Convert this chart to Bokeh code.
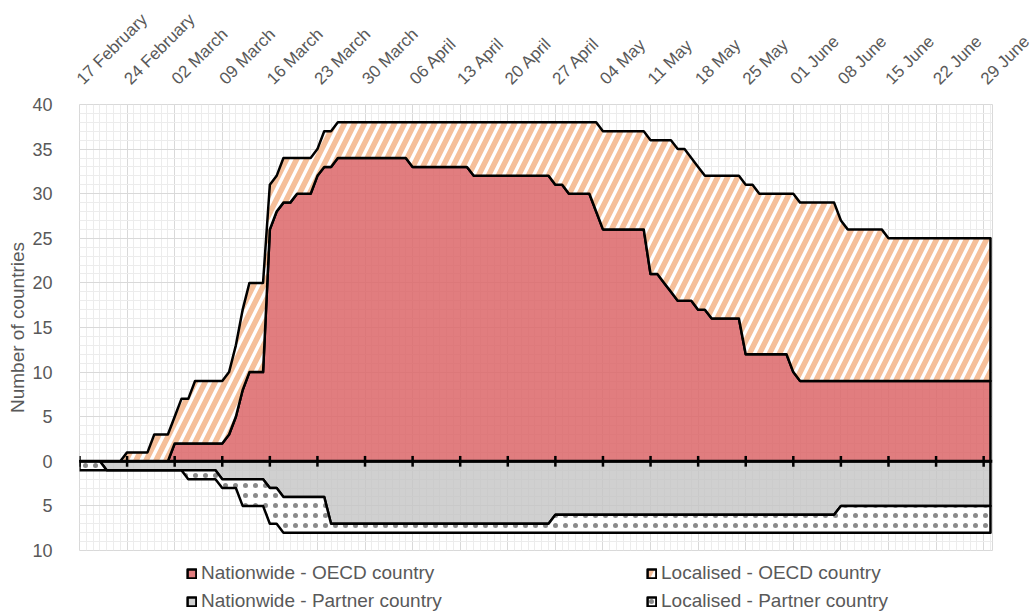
import math
import numpy as np
from bokeh.plotting import figure
from bokeh.layouts import column
from bokeh.models import FixedTicker, Span, Legend, LegendItem, Range1d
from bokeh.embed import file_html
from bokeh.resources import INLINE

# ---------------- data (day index 0 = 17 February 2020, daily to 30 June) ----------------
days = list(range(135))

week_ticks = [0, 7, 14, 21, 28, 35, 42, 49, 56, 63, 70, 77, 84, 91, 98, 105, 112, 119, 126, 133]
date_labels = ["17 February", "24 February", "02 March", "09 March", "16 March", "23 March",
               "30 March", "06 April", "13 April", "20 April", "27 April", "04 May", "11 May",
               "18 May", "25 May", "01 June", "08 June", "15 June", "22 June", "29 June"]

y_ticks = [-10, -5, 0, 5, 10, 15, 20, 25, 30, 35, 40]
y_tick_labels = ["10", "5", "0", "5", "10", "15", "20", "25", "30", "35", "40"]

nationwide_oecd = [
    0, 0, 0, 0, 0, 0, 0, 0, 0, 0, 0, 0, 0, 0,
    2, 2, 2, 2, 2, 2, 2, 2, 3, 5, 8, 10, 10, 10,
    26, 28, 29, 29, 30, 30, 30, 32, 33, 33,
    34, 34, 34, 34, 34, 34, 34, 34, 34, 34, 34,
    33, 33, 33, 33, 33, 33, 33, 33, 33,
    32, 32, 32, 32, 32, 32, 32, 32, 32, 32, 32, 32,
    31, 31, 30, 30, 30, 30, 28,
    26, 26, 26, 26, 26, 26, 26,
    21, 21, 20, 19, 18, 18, 18, 17, 17,
    16, 16, 16, 16, 16,
    12, 12, 12, 12, 12, 12, 12, 10,
    9, 9, 9, 9, 9, 9, 9, 9, 9, 9, 9, 9, 9, 9, 9, 9, 9, 9, 9, 9, 9, 9, 9, 9, 9, 9, 9, 9, 9]

localised_oecd = [
    0, 0, 0, 0, 0, 0, 0, 1, 1, 1, 1, 3, 3, 3,
    3, 5, 5, 7, 7, 7, 7, 7, 7, 8, 9, 10, 10, 10,
    5, 4, 5, 5, 4, 4, 4, 3, 4, 4,
    4, 4, 4, 4, 4, 4, 4, 4, 4, 4, 4,
    5, 5, 5, 5, 5, 5, 5, 5, 5,
    6, 6, 6, 6, 6, 6, 6, 6, 6, 6, 6, 6,
    7, 7, 8, 8, 8, 8, 10,
    11, 11, 11, 11, 11, 11, 11,
    15, 15, 16, 17, 17, 17, 16, 16, 15,
    16, 16, 16, 16, 16,
    19, 19, 18, 18, 18, 18, 18, 20,
    20, 20, 20, 20, 20, 20, 18, 17, 17, 17, 17, 17, 17,
    16, 16, 16, 16, 16, 16, 16, 16, 16, 16, 16, 16, 16, 16, 16, 16]

nationwide_partner = [
    0, 0, 0, 0,
    1, 1, 1, 1, 1, 1, 1, 1, 1, 1, 1, 1, 1, 1, 1, 1, 1,
    2, 2, 2, 2, 2, 2, 2,
    3, 3,
    4, 4, 4, 4, 4, 4, 4,
    7, 7, 7, 7, 7, 7, 7, 7, 7, 7, 7, 7, 7, 7, 7, 7, 7, 7, 7, 7, 7, 7, 7, 7, 7, 7, 7, 7, 7, 7, 7, 7, 7,
    6, 6, 6, 6, 6, 6, 6, 6, 6, 6, 6, 6, 6, 6, 6, 6, 6, 6, 6, 6, 6, 6, 6, 6, 6, 6, 6, 6, 6, 6, 6, 6, 6, 6,
    6, 6, 6, 6, 6, 6, 6, 6,
    5, 5, 5, 5, 5, 5, 5, 5, 5, 5, 5, 5, 5, 5, 5, 5, 5, 5, 5, 5, 5, 5, 5]

localised_partner = [
    1, 1, 1, 1,
    0, 0, 0, 0, 0, 0, 0, 0, 0, 0, 0, 0,
    1, 1, 1, 1, 1,
    1, 1, 1,
    3, 3, 3, 3,
    4, 4,
    4, 4, 4, 4, 4, 4, 4,
    1, 1, 1, 1, 1, 1, 1, 1, 1, 1, 1, 1, 1, 1, 1, 1, 1, 1, 1, 1, 1, 1, 1, 1, 1, 1, 1, 1, 1, 1, 1, 1, 1,
    2, 2, 2, 2, 2, 2, 2, 2, 2, 2, 2, 2, 2, 2, 2, 2, 2, 2, 2, 2, 2, 2, 2, 2, 2, 2, 2, 2, 2, 2, 2, 2, 2, 2,
    2, 2, 2, 2, 2, 2, 2, 2,
    3, 3, 3, 3, 3, 3, 3, 3, 3, 3, 3, 3, 3, 3, 3, 3, 3, 3, 3, 3, 3, 3, 3]

legend_labels = ["Nationwide - OECD country", "Localised - OECD country",
                 "Nationwide - Partner country", "Localised - Partner country"]

# ---------------- style ----------------
FONT = "Liberation Sans"
TXT = "#595959"
RED = dict(fill_color="#DC6668", fill_alpha=0.85)
HATCH = dict(fill_color="white", fill_alpha=1.0, hatch_pattern="/",
             hatch_color="#F5BF9A", hatch_weight=5.5, hatch_scale=20)
GREY = dict(fill_color="#C4C4C4", fill_alpha=0.8)
DOTS = dict(fill_color="white", fill_alpha=1.0, hatch_pattern=".",
            hatch_color="#8A8A8A", hatch_weight=1, hatch_scale=10)
OUTLINE = dict(line_color="black", line_width=2.5, line_join="round")

p = figure(width=1033, height=560, output_backend="svg", toolbar_location=None,
           x_range=(0, 134.3), y_range=(-10, 40), x_axis_location="above",
           min_border_left=79, min_border_right=41, min_border_top=103, min_border_bottom=10,
           background_fill_color="white", border_fill_color="white")
p.outline_line_color = "#D9D9D9"

# x axis (top)
p.xaxis.ticker = FixedTicker(ticks=week_ticks, minor_ticks=days)
p.xaxis.major_label_overrides = dict(zip(week_ticks, date_labels))
p.xaxis.major_label_orientation = math.pi / 4
p.xaxis.major_label_text_font = FONT
p.xaxis.major_label_text_font_size = "17px"
p.xaxis.major_label_text_color = TXT
p.xaxis.major_label_standoff = 17
p.xaxis.axis_line_color = None
p.xaxis.major_tick_line_color = None
p.xaxis.minor_tick_line_color = None

# y axis
p.yaxis.ticker = FixedTicker(ticks=y_ticks, minor_ticks=list(range(-10, 41)))
p.yaxis.major_label_overrides = dict(zip(y_ticks, y_tick_labels))
p.yaxis.major_label_text_font = FONT
p.yaxis.major_label_text_font_size = "18px"
p.yaxis.major_label_text_color = TXT
p.yaxis.major_label_standoff = 21
p.yaxis.axis_line_color = None
p.yaxis.major_tick_line_color = None
p.yaxis.minor_tick_line_color = None
p.yaxis.axis_label = "Number of countries"
p.yaxis.axis_label_text_font = FONT
p.yaxis.axis_label_text_font_size = "19px"
p.yaxis.axis_label_text_font_style = "normal"
p.yaxis.axis_label_text_color = TXT
p.yaxis.axis_label_standoff = 1

for g in (p.xgrid, p.ygrid):
    g.grid_line_color = "#D9D9D9"
    g.minor_grid_line_color = "#ECECEC"

# ---------------- areas ----------------
x = np.array(days, dtype=float)
nat_o = np.array(nationwide_oecd, dtype=float)
tot_o = nat_o + np.array(localised_oecd, dtype=float)
nat_p = -np.array(nationwide_partner, dtype=float)
tot_p = nat_p - np.array(localised_partner, dtype=float)
zero = np.zeros_like(x)


def poly(lower, upper):
    return np.concatenate([x, x[::-1]]), np.concatenate([upper, lower[::-1]])


polys = [poly(zero, nat_o), poly(nat_o, tot_o), poly(zero, nat_p), poly(nat_p, tot_p)]
styles = [RED, HATCH, GREY, DOTS]

for (xs, ys), st in zip(polys, styles):
    p.patch(xs, ys, **st, **OUTLINE)

# zero axis line with weekly tick marks
p.add_layout(Span(location=0, dimension="width", line_color="black", line_width=3))
p.segment(x0=week_ticks, y0=[-0.6] * len(week_ticks), x1=week_ticks, y1=[0.6] * len(week_ticks),
          line_color="black", line_width=2.5)

# ---------------- legend (separate strip below the chart) ----------------
# the same areas are drawn here outside the visible range, only to feed the legend glyphs
leg = figure(width=1033, height=52, output_backend="svg", toolbar_location=None,
             x_range=Range1d(-20, -10), y_range=Range1d(0, 1),
             min_border_left=0, min_border_right=0, min_border_top=0, min_border_bottom=0,
             background_fill_color="white", border_fill_color="white")
leg.axis.visible = False
leg.grid.visible = False
leg.outline_line_color = None

keys = [leg.patch(xs, ys, **st, **OUTLINE) for (xs, ys), st in zip(polys, styles)]

leg_style = dict(orientation="vertical",
                 label_text_font=FONT, label_text_font_size="19px", label_text_color=TXT,
                 glyph_width=11, glyph_height=11, label_standoff=4, spacing=6,
                 padding=0, margin=0, border_line_color=None, background_fill_alpha=0)
legend_a = Legend(items=[LegendItem(label=legend_labels[0], renderers=[keys[0]]),
                         LegendItem(label=legend_labels[2], renderers=[keys[2]])],
                  location=(107, 0), **leg_style)
legend_b = Legend(items=[LegendItem(label=legend_labels[1], renderers=[keys[1]]),
                         LegendItem(label=legend_labels[3], renderers=[keys[3]])],
                  location=(567, 0), **leg_style)
leg.add_layout(legend_a, "center")
leg.add_layout(legend_b, "center")

layout = column(p, leg, spacing=0)
open("out.html", "w").write(file_html(layout, INLINE))
